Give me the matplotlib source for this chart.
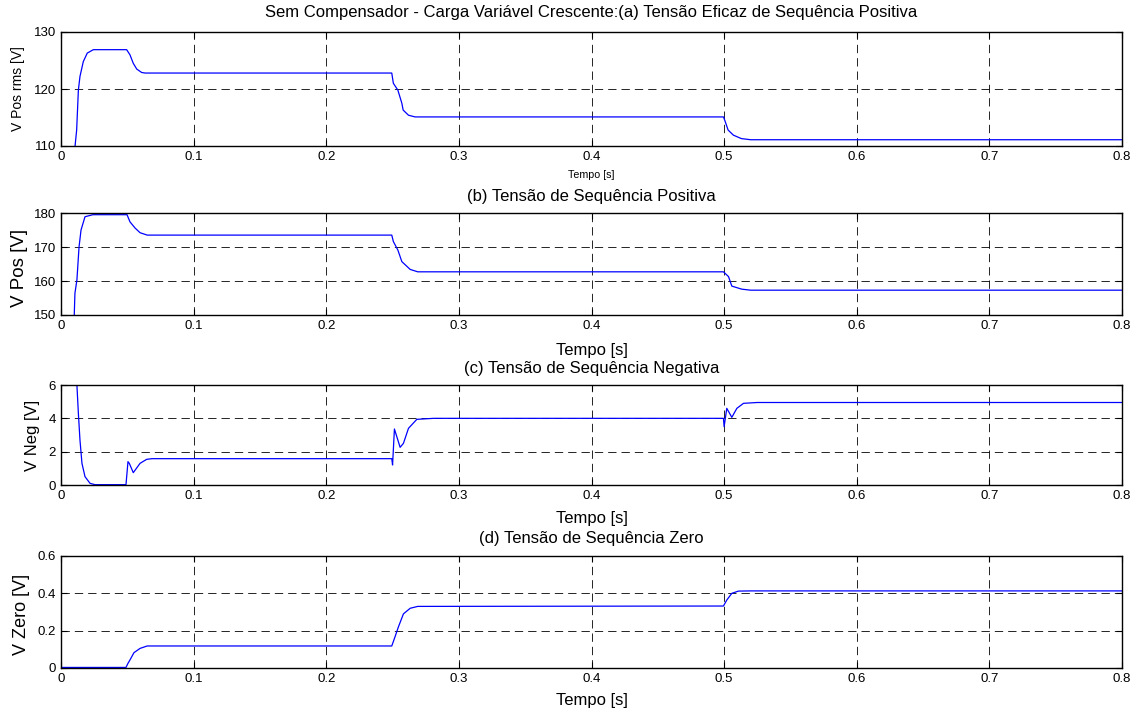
import matplotlib
matplotlib.use("Agg")
import matplotlib.pyplot as plt

plt.rcParams['font.family'] = ['Liberation Sans', 'DejaVu Sans']
plt.rcParams['lines.scale_dashes'] = False

# ---- data ----
t_a = [0.0100, 0.0106, 0.0118, 0.0131, 0.0143, 0.0168, 0.0198, 0.0244, 0.0495, 0.0520, 0.0545,
       0.0571, 0.0608, 0.0634, 0.2494, 0.2506, 0.2540, 0.2570, 0.2580, 0.2620, 0.2670, 0.4995,
       0.5005, 0.5030, 0.5070, 0.5130, 0.5200, 0.8000]
v_a = [105.0, 110.0, 112.8, 119.8, 122.2, 124.8, 126.3, 126.9, 126.9, 126.0, 124.5,
       123.5, 122.9, 122.8, 122.8, 121.0, 119.8, 117.5, 116.3, 115.4, 115.1, 115.1,
       114.5, 112.8, 111.9, 111.3, 111.1, 111.1]

t_b = [0.0095, 0.0100, 0.0105, 0.0120, 0.0136, 0.0151, 0.0181, 0.0240, 0.0498, 0.0520, 0.0558,
       0.0596, 0.0650, 0.2494, 0.2506, 0.2540, 0.2570, 0.2633, 0.2690, 0.4995, 0.5033, 0.5058,
       0.5133, 0.5200, 0.8000]
v_b = [145.0, 150.0, 156.4, 160.3, 170.0, 175.0, 178.9, 179.5, 179.5, 177.4, 175.6,
       174.2, 173.5, 173.5, 171.6, 169.1, 165.7, 163.4, 162.7, 162.7, 161.3, 158.5,
       157.6, 157.3, 157.3]

t_c = [0.0105, 0.0120, 0.0131, 0.0143, 0.0158, 0.0181, 0.0219, 0.0256, 0.0490, 0.0505, 0.0515,
       0.0545, 0.0596, 0.0646, 0.0686, 0.2494, 0.2500, 0.2514, 0.2532, 0.2557, 0.2582, 0.2620,
       0.2683, 0.2810, 0.4995, 0.5000, 0.5020, 0.5058, 0.5096, 0.5146, 0.5250, 0.8000]
v_c = [8.0, 6.0, 4.3, 2.7, 1.3, 0.5, 0.1, 0.02, 0.02, 1.4, 1.3,
       0.74, 1.3, 1.54, 1.58, 1.58, 1.2, 3.36, 2.9, 2.26, 2.5, 3.4,
       3.94, 4.0, 4.0, 3.5, 4.6, 4.06, 4.6, 4.9, 4.95, 4.95]

t_d = [0.0, 0.0490, 0.0505, 0.0520, 0.0550, 0.0596, 0.0650, 0.2494, 0.2519, 0.2544, 0.2582,
       0.2633, 0.2690, 0.4995, 0.5020, 0.5058, 0.5108, 0.5200, 0.8000]
v_d = [0.003, 0.003, 0.025, 0.043, 0.082, 0.105, 0.118, 0.118, 0.168, 0.22, 0.29,
       0.32, 0.330, 0.332, 0.364, 0.40, 0.412, 0.413, 0.413]

x_ticks = [0, 0.1, 0.2, 0.3, 0.4, 0.5, 0.6, 0.7, 0.8]
x_tick_labels = ['0', '0.1', '0.2', '0.3', '0.4', '0.5', '0.6', '0.7', '0.8']

titles = ['Sem Compensador - Carga Variável Crescente:(a) Tensão Eficaz de Sequência Positiva',
          '(b) Tensão de Sequência Positiva',
          '(c) Tensão de Sequência Negativa',
          '(d) Tensão de Sequência Zero']
ylabels = ['V Pos rms [V]', 'V Pos [V]', 'V Neg [V]', 'V Zero [V]']
xlabel = 'Tempo [s]'

ylims = [(110, 130), (150, 180), (0, 6), (0, 0.6)]
yticks = [[110, 120, 130], [150, 160, 170, 180], [0, 2, 4, 6], [0, 0.2, 0.4, 0.6]]
ytick_labels = [['110', '120', '130'], ['150', '160', '170', '180'],
                ['0', '2', '4', '6'], ['0', '0.2', '0.4', '0.6']]

series = [(t_a, v_a), (t_b, v_b), (t_c, v_c), (t_d, v_d)]

# ---- layout (pixels) ----
W, H = 1141, 712
fig = plt.figure(figsize=(W / 100, H / 100), dpi=100)
fig.patch.set_facecolor('white')

boxes = [(32, 146), (213, 315), (385, 485), (556, 668)]
left_px, right_px = 61, 1122
title_y = [12, 196, 368, 539]
xlabel_y = [175, 350, 518, 701]
ylabel_x = [18, 19, 33, 22]
ylabel_y_off = [0, 4, 0, 2]
ylabel_size = [10, 13.5, 12, 13]
xlabel_size = [7.7, 12, 12, 12]

for i in range(4):
    top, bot = boxes[i]
    ax = fig.add_axes([left_px / W, 1 - bot / H, (right_px - left_px) / W, (bot - top) / H])
    t, v = series[i]
    ax.plot(t, v, color='#0000ff', lw=0.9, clip_on=True)
    ax.set_xlim(0, 0.8)
    ax.set_ylim(*ylims[i])
    ax.set_xticks(x_ticks)
    ax.set_xticklabels(x_tick_labels)
    ax.set_yticks(yticks[i])
    ax.set_yticklabels(ytick_labels[i])
    ax.tick_params(direction='in', top=True, right=True, length=4, width=0.8,
                   labelsize=9.5, pad=3.5, colors='black')
    ax.grid(True, color='black', lw=0.6, linestyle=(0, (6, 3.6)))
    for s in ax.spines.values():
        s.set_linewidth(1.0)
        s.set_color('black')
    cx = (left_px + right_px) / 2 / W
    fig.text(cx, 1 - title_y[i] / H, titles[i], ha='center', va='center', fontsize=12)
    fig.text(cx, 1 - xlabel_y[i] / H, xlabel, ha='center', va='center', fontsize=xlabel_size[i])
    fig.text(ylabel_x[i] / W, 1 - ((top + bot) / 2 + ylabel_y_off[i]) / H, ylabels[i], rotation=90,
             ha='center', va='center', fontsize=ylabel_size[i])

fig.savefig('out.png', dpi=100, facecolor='white')
